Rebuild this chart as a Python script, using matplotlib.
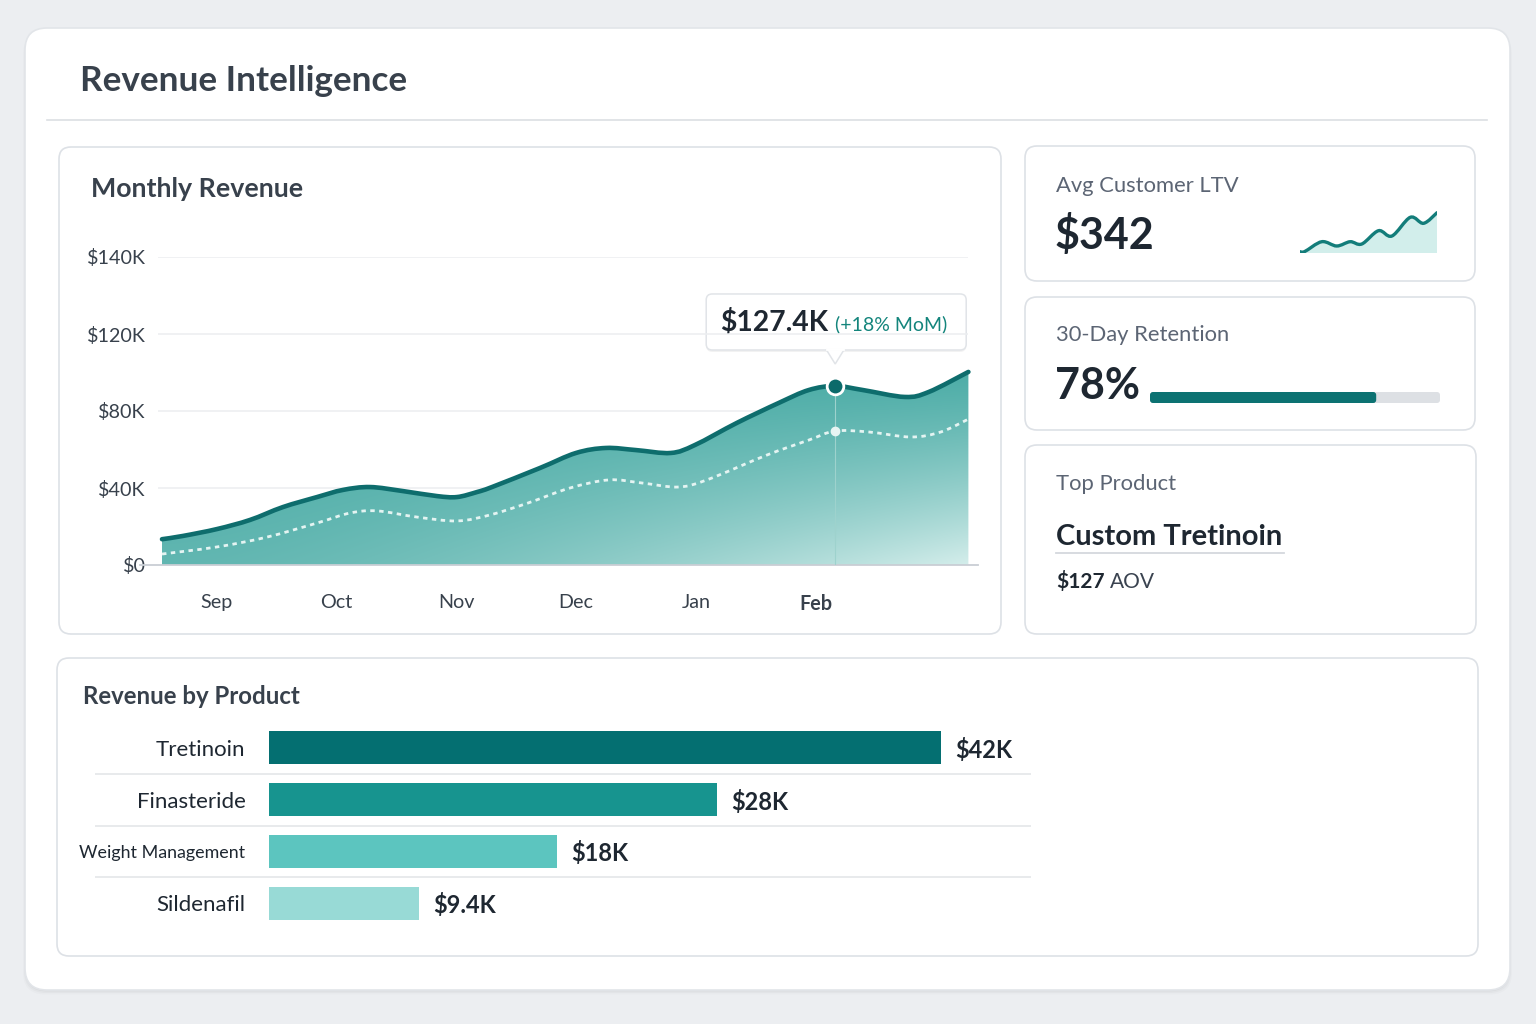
"""
Revenue Intelligence dashboard: monthly revenue, KPI cards and product bars.
"""

import matplotlib

matplotlib.use("Agg")
import matplotlib.pyplot as plt
import numpy as np
from matplotlib.colors import to_rgb
from matplotlib.patches import FancyBboxPatch, PathPatch, Polygon
from matplotlib.path import Path

plt.rcParams["font.family"] = ["Lato", "DejaVu Sans"]

W, H = 1536, 1024

# ---- data -------------------------------------------------------------------
months = ["Sep", "Oct", "Nov", "Dec", "Jan", "Feb"]

# monthly revenue ($K), sampled along the month axis (0 = Sep)
rev_x = [-0.45, -0.275, 0.01, 0.283, 0.558, 0.842, 1.058, 1.283, 1.558, 1.842,
         2.008, 2.175, 2.3, 2.7, 3.0, 3.25, 3.5, 3.79, 3.99, 4.34, 4.69, 4.94,
         5.16, 5.39, 5.74, 5.94, 6.27]
rev_k = [13.4, 15.1, 18.7, 23.4, 30.1, 35.3, 39.0, 40.5, 38.4, 35.8,
         35.3, 37.9, 40.5, 50.4, 58.2, 60.8, 59.7, 58.2, 62.3, 73.8, 84.2, 90.9,
         93.0, 90.9, 87.3, 89.9, 100.3]

# prior-period revenue ($K), dashed line
prior_x = [-0.45, 0.01, 0.425, 0.842, 1.117, 1.342, 1.675, 2.008, 2.283, 2.6,
           2.95, 3.275, 3.55, 3.85, 4.09, 4.59, 4.94, 5.16, 5.44, 5.79, 6.04,
           6.27]
prior_k = [5.7, 9.4, 14.5, 21.8, 27.0, 28.1, 24.9, 22.9, 26.0, 32.2,
           40.0, 44.2, 42.6, 40.5, 44.2, 57.1, 64.9, 69.6, 69.1, 66.5, 69.1,
           75.8]

y_ticks_k = [0, 40, 80, 120, 160]
y_tick_labels = ["$0", "$40K", "$80K", "$120K", "$140K"]

highlight_idx = 22
tooltip_value = "$127.4K"
tooltip_change = "(+18% MoM)"

ltv_value = "$342"
ltv_spark_x = [0, 0.35, 1.59, 2.68, 3.66, 4.51, 5.73, 6.71, 8.05, 9.02, 10]
ltv_spark = [1.3, 1.5, 11.3, 7.0, 11.3, 9.0, 22.3, 17.0, 35.7, 29.7, 40.3]

retention_pct = 78

top_product = "Custom Tretinoin"
top_aov = "$127"

products = ["Tretinoin", "Finasteride", "Weight Management", "Sildenafil"]
product_rev_k = [42, 28, 18, 9.4]

# ---- style ------------------------------------------------------------------
DARK = "#1e2731"
TITLE = "#38414c"
MUTED = "#5c6574"
TEAL = "#0e6d6d"
BORDER = "#dde1e6"
bar_colors = ["#046f71", "#17948f", "#5cc5bf", "#98dad6"]


def px_axes(fig, x0, y0, x1, y1):
    return fig.add_axes([x0 / W, 1 - y1 / H, (x1 - x0) / W, (y1 - y0) / H])


def card(ax, x0, y0, x1, y1, r=12, edge=BORDER, shadow=True):
    if shadow:
        for i, a in enumerate([0.03, 0.022, 0.014]):
            ax.add_patch(FancyBboxPatch(
                (x0 - i, y0 + 1.5 + 1.5 * i), x1 - x0 + 2 * i, y1 - y0,
                boxstyle=f"round,pad=0,rounding_size={r}",
                fc="black", ec="none", alpha=a, zorder=1))
    ax.add_patch(FancyBboxPatch(
        (x0, y0), x1 - x0, y1 - y0, boxstyle=f"round,pad=0,rounding_size={r}",
        fc="white", ec=edge, lw=1.2, zorder=2))


def smooth_path(xs, ys, close_to=None):
    # Catmull-Rom through the points, drawn as cubic Bezier segments
    p = np.column_stack([xs, ys]).astype(float)
    n = len(p)
    verts, codes = [p[0]], [Path.MOVETO]
    for i in range(n - 1):
        p0 = p[max(i - 1, 0)]
        p3 = p[min(i + 2, n - 1)]
        c1 = p[i] + (p[i + 1] - p0) / 6
        c2 = p[i + 1] - (p3 - p[i]) / 6
        verts += [c1, c2, p[i + 1]]
        codes += [Path.CURVE4] * 3
    if close_to is not None:
        verts += [(xs[-1], close_to), (xs[0], close_to), p[0]]
        codes += [Path.LINETO, Path.LINETO, Path.CLOSEPOLY]
    return Path(verts, codes)


def to_bg(ax, x, y):
    dx, dy = ax.transData.transform((x, y))
    return dx, H - dy


def main() -> None:
    fig = plt.figure(figsize=(W / 100, H / 100), dpi=100)
    fig.patch.set_facecolor("#eceef1")
    renderer = fig.canvas.get_renderer()

    bg = fig.add_axes([0, 0, 1, 1])
    bg.set_xlim(0, W)
    bg.set_ylim(H, 0)
    bg.axis("off")

    # main panel
    card(bg, 25, 28, 1510, 990, r=22, edge="#e2e5e9")
    bg.plot([47, 1487], [120, 120], color="#dcdfe3", lw=1.2, zorder=3)
    bg.text(80, 91, "Revenue Intelligence", fontsize=25.3, color=TITLE,
            fontweight="bold", va="baseline", zorder=5)

    # cards
    card(bg, 59, 147, 1001, 634)
    card(bg, 1025, 146, 1475, 281)
    card(bg, 1025, 297, 1475, 430)
    card(bg, 1025, 445, 1476, 634)
    card(bg, 57, 658, 1478, 956)

    # ---- monthly revenue chart ------------------------------------------------
    bg.text(91, 197, "Monthly Revenue", fontsize=19.3, color=TITLE,
            fontweight="bold", va="baseline", zorder=5)

    sep_px, month_px = 216, 120
    ax = px_axes(fig, 158, 257, 978, 565)
    ax.set_facecolor("none")
    xlim = ((158 - sep_px) / month_px, (978 - sep_px) / month_px)

    gx = np.linspace(rev_x[0], rev_x[-1], 300)
    gy = np.linspace(0, 110, 200)
    gX, gY = np.meshgrid(gx, gy)
    frac_x = (gX - rev_x[0]) / (rev_x[-1] - rev_x[0])
    t = (1 - gY / 115) ** 1.4 * (0.18 + 0.72 * frac_x ** 1.6)
    c_top = np.array(to_rgb("#45a9a3"))
    c_light = np.array(to_rgb("#e4f5f3"))
    img = c_top * (1 - t[..., None]) + c_light * t[..., None]
    im = ax.imshow(img, extent=[gx[0], gx[-1], 0, 110], origin="lower",
                   aspect="auto", zorder=1, interpolation="bilinear")
    im.set_clip_path(smooth_path(rev_x, rev_k, close_to=0),
                     transform=ax.transData)

    ax.hlines(y_ticks_k[1:], xlim[0], rev_x[-1], color="#eceef0", lw=1.1,
              zorder=0)
    ax.axhline(0, xmin=-18 / 820, xmax=1, color="#c9ced4", lw=1.3,
               clip_on=False, zorder=2)

    hx = rev_x[highlight_idx]
    ax.plot([hx, hx], [0, rev_k[highlight_idx]], color="#9ed2cd", lw=0.8,
            zorder=2)
    ax.add_patch(PathPatch(smooth_path(prior_x, prior_k), fill=False,
                           ec="#e4f4f2", lw=2, ls=(0, (1.6, 1.6)), zorder=3))
    ax.plot(hx, prior_k[prior_x.index(hx)], "o", ms=6, color="#e8f5f3",
            zorder=4)
    ax.add_patch(PathPatch(smooth_path(rev_x, rev_k), fill=False, ec=TEAL,
                           lw=3.3, capstyle="round", joinstyle="round",
                           zorder=5))
    ax.plot(hx, rev_k[highlight_idx], "o", ms=12, mfc="#0b6a6a", mec="white",
            mew=2, zorder=6)

    ax.set_xlim(*xlim)
    ax.set_ylim(0, 160)
    ax.set_yticks(y_ticks_k, y_tick_labels)
    ax.set_xticks(range(len(months)), months)
    ax.tick_params(length=0, labelsize=14.2, labelcolor=TITLE)
    ax.tick_params(axis="y", pad=9)
    ax.tick_params(axis="x", pad=21)
    ax.get_xticklabels()[-1].set_fontweight("bold")
    for s in ax.spines.values():
        s.set_visible(False)

    # tooltip
    mx, my = to_bg(ax, hx, rev_k[highlight_idx])
    bg.add_patch(FancyBboxPatch((mx - 129, my - 90), 260, 56,
                                boxstyle="round,pad=0,rounding_size=6",
                                fc="black", ec="none", alpha=0.05, zorder=6))
    bg.add_patch(FancyBboxPatch((mx - 129, my - 92), 260, 56,
                                boxstyle="round,pad=0,rounding_size=6",
                                fc="white", ec="#e1e4e8", lw=1.1, zorder=7))
    bg.add_patch(Polygon([[mx - 9, my - 36.5], [mx + 9, my - 36.5],
                          [mx, my - 22]], closed=True, fc="white",
                         ec="#e1e4e8", lw=1.1, zorder=7))
    bg.plot([mx - 8, mx + 8], [my - 36.5, my - 36.5], color="white", lw=2,
            zorder=8)
    tv = bg.text(mx - 115, my - 55, tooltip_value, fontsize=20.3,
                 fontweight="bold", color=DARK, va="baseline", zorder=9)
    tx1 = tv.get_window_extent(renderer).x1
    bg.text(tx1 + 7, my - 56, tooltip_change, fontsize=14, color="#14857c",
            va="baseline", zorder=9)

    # ---- KPI cards -------------------------------------------------------------
    bg.text(1056, 192, "Avg Customer LTV", fontsize=15.8, color=MUTED,
            va="baseline", zorder=5)
    bg.text(1055, 249, ltv_value, fontsize=31, fontweight="bold", color=DARK,
            va="baseline", zorder=5)
    sp = px_axes(fig, 1300, 208, 1437, 253)
    sp.set_facecolor("none")
    sp.add_patch(PathPatch(smooth_path(ltv_spark_x, ltv_spark, close_to=0),
                           fc="#d2eeeb", ec="none"))
    sp.add_patch(PathPatch(smooth_path(ltv_spark_x, ltv_spark), fill=False,
                           ec="#137d7a", lw=2.4, capstyle="round"))
    sp.set_xlim(ltv_spark_x[0], ltv_spark_x[-1])
    sp.set_ylim(0, 45)
    sp.axis("off")

    bg.text(1056, 341, "30-Day Retention", fontsize=15.8, color=MUTED,
            va="baseline", zorder=5)
    bg.text(1055, 399, f"{retention_pct}%", fontsize=31, fontweight="bold",
            color=DARK, va="baseline", zorder=5)
    bar_x0, bar_w = 1150, 290
    bg.add_patch(FancyBboxPatch((bar_x0, 392), bar_w, 11,
                                boxstyle="round,pad=0,rounding_size=3",
                                fc="#dde0e4", ec="none", zorder=5))
    bg.add_patch(FancyBboxPatch((bar_x0, 392), bar_w * retention_pct / 100, 11,
                                boxstyle="round,pad=0,rounding_size=3",
                                fc="#0c7272", ec="none", zorder=6))

    bg.text(1056, 490, "Top Product", fontsize=15.8, color=MUTED,
            va="baseline", zorder=5)
    tp = bg.text(1056, 545, top_product, fontsize=21, color=DARK,
                 fontweight="bold", va="baseline", zorder=5)
    tp_x1 = tp.get_window_extent(renderer).x1
    bg.plot([1056, tp_x1 + 2], [553, 553], color="#d4d8dd", lw=1.3, zorder=5)
    ta = bg.text(1056, 588, top_aov, fontsize=15, color=DARK,
                 fontweight="bold", va="baseline", zorder=5)
    ta_x1 = ta.get_window_extent(renderer).x1
    bg.text(ta_x1 + 5, 588, "AOV", fontsize=15, color="#3a4350",
            va="baseline", zorder=5)

    # ---- revenue by product ----------------------------------------------------
    bg.text(83, 704, "Revenue by Product", fontsize=17.3, color=TITLE,
            fontweight="bold", va="baseline", zorder=5)

    px_per_k = 16.0
    bx = px_axes(fig, 269, 722, 1032, 929)
    bx.set_facecolor("none")
    ypos = np.arange(len(products))
    bx.barh(ypos, product_rev_k, height=0.64, color=bar_colors, zorder=3)
    bx.set_xlim(0, (1032 - 269) / px_per_k)
    bx.set_ylim(len(products) - 0.5, -0.5)
    bx.hlines(ypos[:-1] + 0.5, -174 / px_per_k, (1031 - 269) / px_per_k,
              color="#e6e8eb", lw=1.3, clip_on=False, zorder=1)
    for y, v in zip(ypos, product_rev_k):
        bx.text(v + 14 / px_per_k, y, f"${v:g}K", fontsize=17,
                fontweight="bold", color=DARK, va="center_baseline",
                ha="left")
    bx.set_yticks(ypos, products)
    bx.set_xticks([])
    bx.tick_params(axis="y", length=0, pad=17, labelsize=16, labelcolor=DARK)
    for lab in bx.get_yticklabels():
        if len(lab.get_text()) > 12:
            lab.set_fontsize(12.9)
    for s in bx.spines.values():
        s.set_visible(False)

    fig.savefig("out.png", dpi=100, facecolor=fig.get_facecolor())


if __name__ == "__main__":
    main()
